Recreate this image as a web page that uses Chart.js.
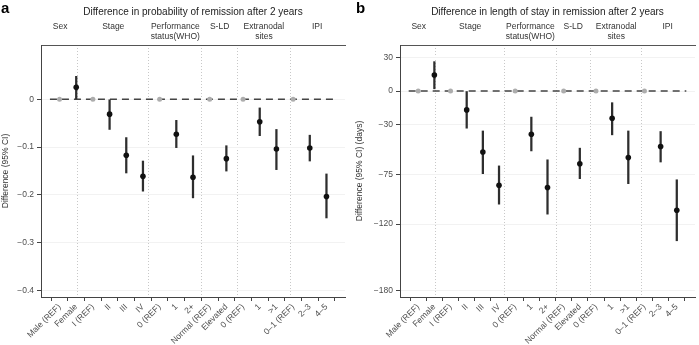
<!DOCTYPE html>
<html><head><meta charset="utf-8">
<script src="https://cdn.jsdelivr.net/npm/chart.js@4.4.1/dist/chart.umd.min.js"></script>
<style>
html,body{margin:0;padding:0;background:#fff;}
#wrap{position:relative;width:699px;height:345px;overflow:hidden;background:#fff;}
#ca{position:absolute;left:0;top:0;}
#cb{position:absolute;left:349px;top:0;}
</style></head><body>
<div id="wrap"><canvas id="ca" width="349" height="345"></canvas><canvas id="cb" width="350" height="345"></canvas></div>
<script>
// ---------- data ----------
const categories = ['Male (REF)','Female','I (REF)','II','III','IV','0 (REF)','1','2+','Normal (REF)','Elevated','0 (REF)','1','>1','0\u20131 (REF)','2\u20133','4\u20135'];
const groupNames = [['Sex'],['Stage'],['Performance','status(WHO)'],['S-LD'],['Extranodal','sites'],['IPI']];
const groupSizes = [2,4,3,2,3,3];

const titleA = 'Difference in probability of remission after 2 years';
const yTitleA = 'Difference (95% CI)';
const estA  = [0, 0.025, 0, -0.031, -0.117, -0.161, 0, -0.073, -0.163, 0, -0.124, 0, -0.047, -0.104, 0, -0.102, -0.203];
const lowA  = [null, 0.000, null, -0.063, -0.154, -0.192, null, -0.101, -0.206, null, -0.150, null, -0.076, -0.147, null, -0.129, -0.248];
const highA = [null, 0.048, null, 0.000, -0.080, -0.129, null, -0.044, -0.118, null, -0.097, null, -0.018, -0.063, null, -0.075, -0.156];
const yTicksA = [0, -0.1, -0.2, -0.3, -0.4];
const yTickLabelsA = ['0','\u22120.1','\u22120.2','\u22120.3','\u22120.4'];

const titleB = 'Difference in length of stay in remission after 2 years';
const yTitleB = 'Difference (95% CI) (days)';
const estB  = [0, 14.5, 0, -17, -55, -85, 0, -39, -87, 0, -65.5, 0, -24.5, -60, 0, -50, -107.5];
const lowB  = [null, 2, null, -33.5, -74.5, -102, null, -54, -111, null, -79, null, -39.5, -83.5, null, -64, -135];
const highB = [null, 26.5, null, 0, -36, -67.5, null, -23.5, -62, null, -51.5, null, -10.5, -36, null, -36.5, -80];
const yTicksB = [30, 0, -30, -75, -120, -180];
const yTickLabelsB = ['30','0','\u221230','\u221275','\u2212120','\u2212180'];

// ---------- setup ----------
Chart.defaults.font.family = '"Liberation Sans", Arial, Helvetica, sans-serif';
Chart.defaults.color = '#4d4d4d';

const groupCenters = [], separators = [];
(function(){ let s = 0; groupSizes.forEach((n, k) => { groupCenters.push(s + (n - 1) / 2); s += n; if (k < groupSizes.length - 1) separators.push(s - 0.5); }); })();

const letterPlugin = {
  id: 'panelLetter',
  afterDraw(chart, args, opts) {
    const c = chart.ctx; c.save();
    c.font = 'bold 15px "Liberation Sans", Arial, sans-serif';
    c.fillStyle = '#000'; c.textBaseline = 'alphabetic'; c.textAlign = 'left';
    c.fillText(opts.text, opts.x, opts.y);
    c.restore();
  }
};

function makePanel(id, letter, letterX, title, yTitle, est, low, high, yTicks, yLabels, yMin, yMax, axisW, yTitlePad, xPad) {
  const xMin = -xPad, xMax = categories.length - 1 + xPad;
  const pts = est.map((v, i) => ({x: i, y: v}));
  const bars = [];
  est.forEach((v, i) => { if (low[i] !== null) bars.push({x: i, y: [low[i], high[i]]}); });
  new Chart(document.getElementById(id), {
    data: {
      datasets: [
        { type: 'scatter', data: pts, order: 0,
          pointRadius: pts.map((p, i) => low[i] === null ? 2.5 : 2.8),
          pointBackgroundColor: pts.map((p, i) => low[i] === null ? '#adadad' : '#111'),
          pointBorderWidth: 0, xAxisID: 'x', yAxisID: 'y' },
        { type: 'bar', data: bars, order: 1, barThickness: 1.6, backgroundColor: '#2e2e2e', borderWidth: 0,
          xAxisID: 'x', yAxisID: 'y' },
        { type: 'line', data: [{x: xMin, y: 0}, {x: xMax, y: 0}], order: 2, borderColor: '#444',
          borderWidth: 1.4, borderDash: [7, 5], pointRadius: 0, xAxisID: 'x', yAxisID: 'y' }
      ]
    },
    options: {
      responsive: false, animation: false, devicePixelRatio: 1,
      layout: { padding: 0 },
      plugins: { legend: { display: false }, tooltip: { enabled: false }, panelLetter: { text: letter, x: letterX, y: 13 } },
      scales: {
        x: {
          type: 'linear', position: 'bottom', min: xMin, max: xMax,
          afterBuildTicks: s => { s.ticks = categories.map((c, i) => ({value: i})); },
          ticks: { callback: (v, i) => categories[i], autoSkip: false, minRotation: 45, maxRotation: 45,
                   font: { size: 8.5 }, color: '#4d4d4d', padding: 1 },
          grid: { drawOnChartArea: false, drawTicks: true, tickLength: 4, tickColor: '#444', tickWidth: 1 },
          border: { display: true, color: '#444', width: 1 },
          afterFit: s => { s.height = 48; s.paddingLeft = 0; s.paddingRight = 0; }
        },
        sep: {
          type: 'linear', position: 'top', min: xMin, max: xMax,
          afterBuildTicks: s => { s.ticks = separators.map(v => ({value: v})); },
          ticks: { display: false },
          grid: { drawOnChartArea: true, drawTicks: false, color: '#c8c8c8', lineWidth: 1 },
          border: { display: false, dash: [1, 2] },
          afterFit: s => { s.height = 0; s.paddingLeft = 0; s.paddingRight = 0; }
        },
        groups: {
          type: 'linear', position: 'top', min: xMin, max: xMax,
          afterBuildTicks: s => { s.ticks = groupCenters.map(v => ({value: v})); },
          ticks: { callback: (v, i) => groupNames[i], autoSkip: false, minRotation: 0, maxRotation: 0,
                   font: { size: 8.5, lineHeight: 1.18 }, color: '#333', padding: 3, crossAlign: 'far' },
          grid: { display: false, drawTicks: false },
          border: { display: true, color: '#555', width: 1 },
          title: { display: true, text: title, font: { size: 10 }, color: '#222', padding: { top: 6, bottom: 0 } },
          afterFit: s => { s.height = 45; s.paddingLeft = 0; s.paddingRight = 0; }
        },
        y: {
          type: 'linear', position: 'left', min: yMin, max: yMax,
          afterBuildTicks: s => { s.ticks = yTicks.map(v => ({value: v})); },
          ticks: { callback: (v, i) => yLabels[i], font: { size: 8.5 }, color: '#4d4d4d', padding: 3 },
          grid: { color: '#f2f2f2', lineWidth: 1, drawTicks: true, tickLength: 4, tickColor: '#444' },
          border: { display: true, color: '#444', width: 1 },
          title: { display: true, text: yTitle, font: { size: 8.5 }, color: '#333', padding: { top: yTitlePad, bottom: 0 } },
          afterFit: s => { s.width = axisW; }
        }
      }
    },
    plugins: [letterPlugin]
  });
}

makePanel('ca', 'a', 1, titleA, yTitleA, estA, lowA, highA, yTicksA, yTickLabelsA, -0.4132, 0.1135, 41, 1, 0.575);
makePanel('cb', 'b', 7, titleB, yTitleB, estB, lowB, highB, yTicksB, yTickLabelsB, -185.7, 41.5, 51, 6, 0.59);
</script>
</body></html>
